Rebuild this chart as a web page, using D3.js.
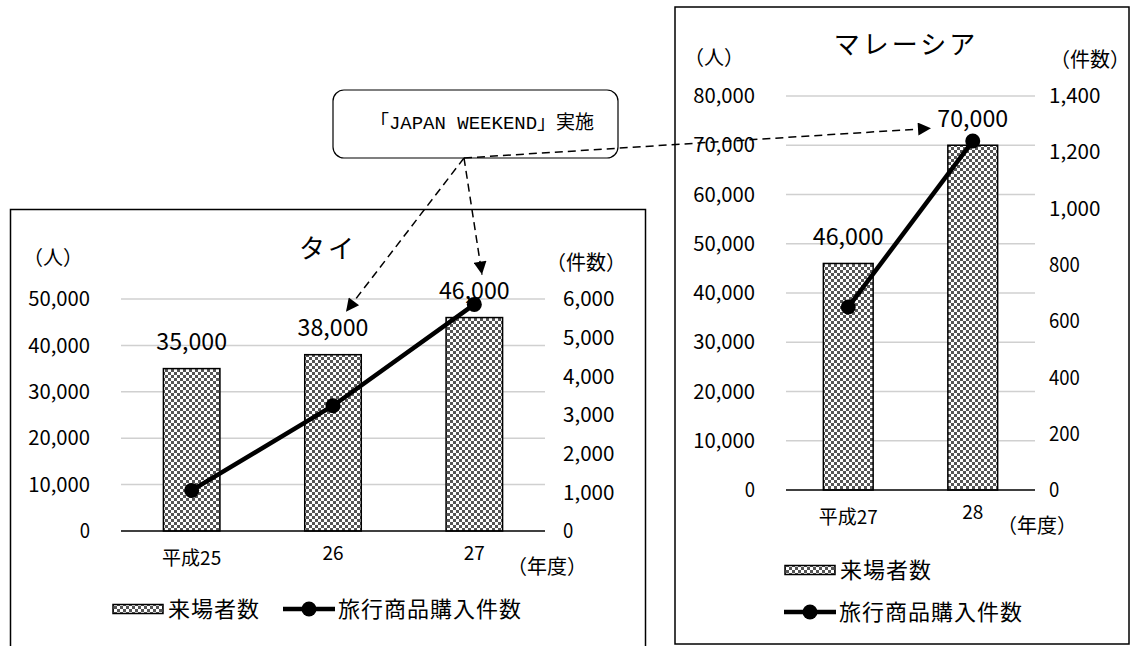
<!DOCTYPE html>
<html>
<head>
<meta charset="utf-8">
<script src="https://cdn.jsdelivr.net/npm/d3@7"></script>
<style>
  body { margin: 0; background: #fff; }
  text { font-family: "Noto Sans CJK JP", sans-serif; fill: #000; }
  .serif { font-family: "Liberation Mono", "Noto Sans CJK JP", monospace; }
</style>
</head>
<body>
<div id="viz-container"></div>
<script>
// Thai panel
const thaiYears = ["平成25", "26", "27"];
const thaiVisitors = [35000, 38000, 46000];
const thaiPurchases = [1050, 3240, 5860];
const thaiLeftTicks = [0, 10000, 20000, 30000, 40000, 50000];
const thaiRightTicks = [0, 1000, 2000, 3000, 4000, 5000, 6000];

// Malaysia panel
const malaysiaYears = ["平成27", "28"];
const malaysiaVisitors = [46000, 70000];
const malaysiaPurchases = [650, 1240];
const malaysiaLeftTicks = [0, 10000, 20000, 30000, 40000, 50000, 60000, 70000, 80000];
const malaysiaRightTicks = [0, 200, 400, 600, 800, 1000, 1200, 1400];

const barName = "来場者数";
const lineName = "旅行商品購入件数";
const calloutText = "「JAPAN WEEKEND」実施";

const width = 1135, height = 646;
const fmt = d3.format(",");

const svg = d3.select("#viz-container").append("svg")
    .attr("width", width)
    .attr("height", height);

const defs = svg.append("defs");
const pat = defs.append("pattern")
    .attr("id", "checker")
    .attr("patternUnits", "userSpaceOnUse")
    .attr("width", 6).attr("height", 6);
pat.append("rect").attr("width", 6).attr("height", 6).attr("fill", "#fff");
pat.append("rect").attr("width", 3).attr("height", 3).attr("fill", "#555");
pat.append("rect").attr("x", 3).attr("y", 3).attr("width", 3).attr("height", 3).attr("fill", "#555");

defs.append("marker")
    .attr("id", "arrow")
    .attr("viewBox", "0 0 10 10")
    .attr("refX", 10).attr("refY", 5)
    .attr("markerUnits", "userSpaceOnUse")
    .attr("markerWidth", 15).attr("markerHeight", 13)
    .attr("orient", "auto")
    .append("path")
    .attr("d", "M0,0 L10,5 L0,10 Z")
    .attr("fill", "#000");

// numbers in the original are half-width monospaced, so fix their width per character
function numText(sel, perChar) {
    sel.text(d => fmt(d))
        .attr("textLength", d => fmt(d).length * perChar)
        .attr("lengthAdjust", "spacingAndGlyphs");
}

function drawPanel(p) {
    const g = svg.append("g");

    // frame
    g.append("rect")
        .attr("x", p.frame[0]).attr("y", p.frame[1])
        .attr("width", p.frame[2]).attr("height", p.frame[3])
        .attr("fill", "#fff").attr("stroke", "#000").attr("stroke-width", 1.5);

    const x = d3.scaleBand().domain(p.years).range([p.x0, p.x1]);
    const yL = d3.scaleLinear().domain([0, p.leftMax]).range([p.yBottom, p.yTop]);
    const yR = d3.scaleLinear().domain([0, p.rightMax]).range([p.yBottom, p.yTop]);
    const bw = x.bandwidth() * 0.4;
    const cx = i => x(p.years[i]) + x.bandwidth() / 2;

    // gridlines
    g.append("g").selectAll("line")
        .data(p.leftTicks.filter(d => d > 0))
        .join("line")
        .attr("x1", p.x0).attr("x2", p.x1)
        .attr("y1", d => yL(d)).attr("y2", d => yL(d))
        .attr("stroke", "#d0d0d0").attr("stroke-width", 1.5);

    // left axis labels
    g.append("g").selectAll("text")
        .data(p.leftTicks)
        .join("text")
        .attr("x", p.x0 - 31)
        .attr("y", d => yL(d))
        .attr("dy", "0.36em")
        .attr("text-anchor", "end")
        .attr("font-size", 20)
        .call(numText, 10.3);

    // right axis labels
    g.append("g").selectAll("text")
        .data(p.rightTicks)
        .join("text")
        .attr("x", p.x1 + p.rightGap)
        .attr("y", d => yR(d))
        .attr("dy", "0.36em")
        .attr("font-size", 20)
        .call(numText, 10.3);

    // bars
    g.append("g").selectAll("rect")
        .data(p.visitors)
        .join("rect")
        .attr("x", (d, i) => cx(i) - bw / 2)
        .attr("y", d => yL(d))
        .attr("width", bw)
        .attr("height", d => yL(0) - yL(d))
        .attr("fill", "url(#checker)")
        .attr("stroke", "#000").attr("stroke-width", 1.5);

    // zero line
    g.append("line")
        .attr("x1", p.x0).attr("x2", p.x1)
        .attr("y1", yL(0)).attr("y2", yL(0))
        .attr("stroke", "#000").attr("stroke-width", 1.5);

    // bar value labels
    g.append("g").selectAll("text")
        .data(p.visitors)
        .join("text")
        .attr("x", (d, i) => cx(i))
        .attr("y", d => yL(d) - 27)
        .attr("dy", "0.36em")
        .attr("text-anchor", "middle")
        .attr("font-size", 23)
        .call(numText, 11.8);

    // purchase line
    const line = d3.line()
        .x((d, i) => cx(i))
        .y(d => yR(d));
    g.append("path")
        .datum(p.purchases)
        .attr("d", line)
        .attr("fill", "none")
        .attr("stroke", "#000").attr("stroke-width", 4.5);
    g.append("g").selectAll("circle")
        .data(p.purchases)
        .join("circle")
        .attr("cx", (d, i) => cx(i))
        .attr("cy", d => yR(d))
        .attr("r", 7.5)
        .attr("fill", "#000");

    // category labels
    g.append("g").selectAll("text")
        .data(p.years)
        .join("text")
        .attr("x", d => x(d) + x.bandwidth() / 2)
        .attr("y", (d, i) => yL(0) + (i === 0 ? 27 : 22))
        .attr("dy", "0.36em")
        .attr("text-anchor", "middle")
        .attr("font-size", 19)
        .text(d => d);

    g.append("text")
        .attr("x", p.x1 + 2).attr("y", yL(0) + 36)
        .attr("dy", "0.36em")
        .attr("text-anchor", "middle")
        .attr("font-size", 20)
        .text("（年度）");

    // unit labels
    g.append("text")
        .attr("x", p.unitL[0]).attr("y", p.unitL[1])
        .attr("dy", "0.36em")
        .attr("text-anchor", "middle")
        .attr("font-size", 20)
        .text("（人）");
    g.append("text")
        .attr("x", p.unitR[0]).attr("y", p.unitR[1])
        .attr("dy", "0.36em")
        .attr("text-anchor", "middle")
        .attr("font-size", 20)
        .text("（件数）");

    // title
    g.append("text")
        .attr("x", p.title[0]).attr("y", p.title[1])
        .attr("dy", "0.36em")
        .attr("text-anchor", "middle")
        .attr("font-size", 26)
        .attr("letter-spacing", 3)
        .text(p.name);

    // legend
    const lg = g.append("g");
    p.legend.forEach(item => {
        const [lx, ly] = item.pos;
        if (item.kind === "bar") {
            lg.append("rect")
                .attr("x", lx).attr("y", ly - 4.5)
                .attr("width", 50).attr("height", 9)
                .attr("fill", "url(#checker)")
                .attr("stroke", "#000").attr("stroke-width", 1.5);
        } else {
            lg.append("line")
                .attr("x1", lx).attr("x2", lx + 52)
                .attr("y1", ly).attr("y2", ly)
                .attr("stroke", "#000").attr("stroke-width", 4.5);
            lg.append("circle")
                .attr("cx", lx + 26).attr("cy", ly).attr("r", 7.5)
                .attr("fill", "#000");
        }
        lg.append("text")
            .attr("x", lx + 55).attr("y", ly)
            .attr("dy", "0.36em")
            .attr("font-size", 22)
            .attr("letter-spacing", 1)
            .text(item.kind === "bar" ? barName : lineName);
    });

    return { yL };
}

const thai = drawPanel({
    name: "タイ",
    frame: [10.5, 209.5, 635, 460],
    x0: 121, x1: 545, yTop: 299, yBottom: 531, rightGap: 18,
    leftMax: 50000, rightMax: 6000,
    years: thaiYears, visitors: thaiVisitors, purchases: thaiPurchases,
    leftTicks: thaiLeftTicks, rightTicks: thaiRightTicks,
    unitL: [53, 258], unitR: [586, 263],
    title: [328, 249],
    legend: [{ kind: "bar", pos: [113, 609] }, { kind: "line", pos: [283, 609] }]
});

const malaysia = drawPanel({
    name: "マレーシア",
    frame: [675, 7, 454, 637],
    x0: 786, x1: 1035, yTop: 96, yBottom: 490, rightGap: 14,
    leftMax: 80000, rightMax: 1400,
    years: malaysiaYears, visitors: malaysiaVisitors, purchases: malaysiaPurchases,
    leftTicks: malaysiaLeftTicks, rightTicks: malaysiaRightTicks,
    unitL: [714, 58], unitR: [1090, 60],
    title: [906, 45],
    legend: [{ kind: "bar", pos: [785, 570] }, { kind: "line", pos: [784, 612] }]
});

// callout box with dashed arrows to the JAPAN WEEKEND years
const origin = [464, 158];
const targets = [
    [346, thai.yL(thaiVisitors[1]) - 43],
    [482, thai.yL(thaiVisitors[2]) - 43],
    [931, malaysia.yL(malaysiaVisitors[1]) - 17]
];
svg.append("g").selectAll("line")
    .data(targets)
    .join("line")
    .attr("x1", origin[0]).attr("y1", origin[1])
    .attr("x2", d => d[0]).attr("y2", d => d[1])
    .attr("stroke", "#000").attr("stroke-width", 1.5)
    .attr("stroke-dasharray", "8,5")
    .attr("marker-end", "url(#arrow)");

svg.append("rect")
    .attr("x", 333).attr("y", 90)
    .attr("width", 285).attr("height", 68)
    .attr("rx", 11).attr("ry", 11)
    .attr("fill", "none")
    .attr("stroke", "#000").attr("stroke-width", 1.2);

svg.append("text")
    .attr("class", "serif")
    .attr("x", 482).attr("y", 122)
    .attr("dy", "0.36em")
    .attr("text-anchor", "middle")
    .attr("font-size", 19)
    .text(calloutText);
</script>
</body>
</html>
